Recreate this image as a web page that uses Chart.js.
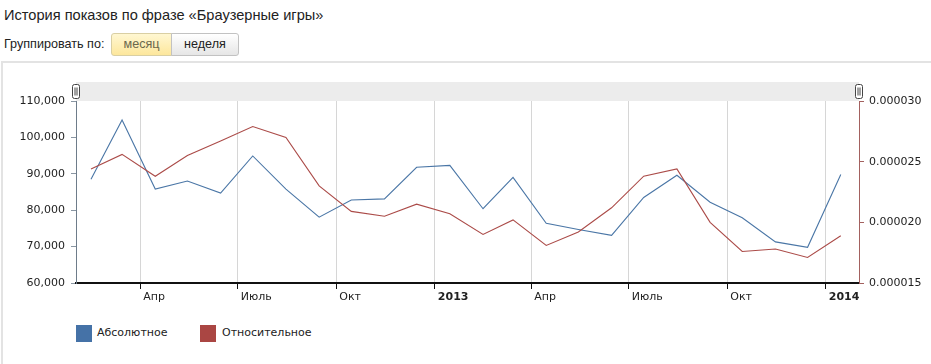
<!DOCTYPE html>
<html><head><meta charset="utf-8">
<script src="https://cdn.jsdelivr.net/npm/chart.js@4.4.1/dist/chart.umd.min.js"></script>
<style>
html,body{margin:0;padding:0}
body{width:931px;height:364px;overflow:hidden;background:#fff;font-family:"Liberation Sans",Arial,sans-serif;position:relative}
#title{position:absolute;left:4px;top:7px;font-size:14.6px;color:#222;white-space:nowrap}
#group{position:absolute;left:4px;top:37px;font-size:12.6px;color:#222;white-space:nowrap}
.btn{position:absolute;top:33px;height:23px;line-height:21px;font-size:12.6px;text-align:center;box-sizing:border-box}
#b1{left:111px;width:61px;background:linear-gradient(#fff7d2,#fde79c);border:1px solid #d9cfa3;border-radius:3px 0 0 3px;color:#6b684c}
#b2{left:171px;width:68px;background:linear-gradient(#ffffff,#e6e6e6);border:1px solid #c2c2c2;border-radius:0 3px 3px 0;color:#222}
#frame{position:absolute;left:1px;top:61px;width:940px;height:320px;border-top:2px solid #e3e3e3;border-left:2px solid #e3e3e3}
#wrap{position:absolute;left:0;top:62px;width:931px;height:240px}
.lg{position:absolute;top:325px;width:16px;height:17px}
.lt{position:absolute;top:326px;font-family:"DejaVu Sans",Verdana,sans-serif;font-size:11px;color:#222;white-space:nowrap}
</style></head>
<body>
<div id="title">История показов по фразе «Браузерные игры»</div>
<div id="group">Группировать по:</div>
<div class="btn" id="b1">месяц</div>
<div class="btn" id="b2">неделя</div>
<div id="frame"></div>
<div id="wrap"><canvas id="c" width="931" height="240"></canvas></div>
<div class="lg" style="left:76px;background:#4572A7"></div>
<div class="lt" style="left:97px">Абсолютное</div>
<div class="lg" style="left:200px;background:#AA4643"></div>
<div class="lt" style="left:222px">Относительное</div>
<script>
const months = ["2012-02","2012-03","2012-04","2012-05","2012-06","2012-07","2012-08","2012-09","2012-10","2012-11","2012-12",
  "2013-01","2013-02","2013-03","2013-04","2013-05","2013-06","2013-07","2013-08","2013-09","2013-10","2013-11","2013-12","2014-01"];
const absoluteViews = [88500,104800,85800,88000,84700,94900,85800,78100,82800,83100,91800,92300,
  80400,89000,76400,74700,73100,83500,89600,82200,77900,71300,69800,89800];
const relativeViews = [0.0000244,0.0000256,0.0000238,0.0000255,0.0000267,0.0000279,0.0000270,0.0000230,0.0000209,0.0000205,0.0000215,0.0000207,
  0.0000190,0.0000202,0.0000181,0.0000192,0.0000212,0.0000238,0.0000244,0.0000200,0.0000176,0.0000178,0.0000171,0.0000189];
const tickDates = ["2012-04-01","2012-07-01","2012-10-01","2013-01-01","2013-04-01","2013-07-01","2013-10-01","2014-01-01"];
const tickLabels = ["Апр","Июль","Окт","2013","Апр","Июль","Окт","2014"];
const yearTicks = ["2013-01-01","2014-01-01"].map(d=>Date.parse(d));
const axisStart = "2012-02-01", axisEnd = "2014-02-01";

const xs = months.map(m=>Date.parse(m+"-15"));
const tickVals = tickDates.map(d=>Date.parse(d));
const font = {family:"DejaVu Sans", size:11};

const bandPlugin = {
  id:'band',
  beforeDraw(chart){
    const {ctx, chartArea:a} = chart;
    ctx.save();
    ctx.fillStyle = '#ececec';
    ctx.fillRect(a.left, a.top-19, a.right-a.left, 19);
    ctx.restore();
  },
  afterDraw(chart){
    const {ctx, chartArea:a} = chart;
    ctx.save();
    [a.left, a.right].forEach(x=>{
      const l = Math.round(x)-3.5, t = a.top-16.5;
      ctx.fillStyle='#fff'; ctx.strokeStyle='#444'; ctx.lineWidth=1;
      ctx.beginPath(); ctx.roundRect(l,t,7,14,2); ctx.fill(); ctx.stroke();
      ctx.beginPath(); ctx.moveTo(l+2.5,t+3); ctx.lineTo(l+2.5,t+11); ctx.moveTo(l+4.5,t+3); ctx.lineTo(l+4.5,t+11); ctx.stroke();
    });
    ctx.restore();
  }
};

new Chart(document.getElementById('c'), {
  type:'line',
  data:{datasets:[
    {label:'Абсолютное', data:xs.map((x,i)=>({x, y:absoluteViews[i]})), yAxisID:'y', borderColor:'#4a76a6', borderWidth:1.1, pointRadius:0, tension:0, order:1},
    {label:'Относительное', data:xs.map((x,i)=>({x, y:relativeViews[i]})), yAxisID:'y1', borderColor:'#ab4b48', borderWidth:1.1, pointRadius:0, tension:0, order:0}
  ]},
  options:{
    responsive:false, animation:false, devicePixelRatio:1,
    layout:{padding:{top:39,left:0,right:0,bottom:0}},
    plugins:{legend:{display:false}, tooltip:{enabled:false}},
    scales:{
      x:{type:'linear', min:Date.parse(axisStart), max:Date.parse(axisEnd),
        afterBuildTicks(s){ s.ticks = tickVals.map(v=>({value:v})); },
        afterFit(s){ s.height = 19; },
        ticks:{autoSkip:false, maxRotation:0, padding:2, color:'#222', align:'start', labelOffset:3,
          callback:(v)=>{ const i = tickVals.indexOf(v); return i>=0 ? tickLabels[i] : ''; },
          font:(c)=>({family:"DejaVu Sans", size:11, weight:(c.tick && yearTicks.includes(c.tick.value)) ? 'bold':'normal'})},
        grid:{color:'#d6d6d6', lineWidth:1, tickColor:'#111', tickLength:6, drawOnChartArea:true},
        border:{color:'#111', width:2}
      },
      y:{position:'left', min:60000, max:110000,
        afterFit(s){ s.width = 76; },
        ticks:{stepSize:10000, color:'#222', font, padding:6, callback:v=>Number(v).toLocaleString('en-US')},
        grid:{drawOnChartArea:false, tickLength:5, tickColor:'#8a96a3'},
        border:{color:'#6e7c8a', width:1}
      },
      y1:{position:'right', min:0.000015, max:0.000030,
        afterFit(s){ s.width = 72; },
        ticks:{stepSize:0.000005, color:'#222', font, padding:5, callback:v=>Number(v).toFixed(6)},
        grid:{drawOnChartArea:false, tickLength:5, tickColor:'#a3615f'},
        border:{color:'#a3615f', width:1}
      }
    }
  },
  plugins:[bandPlugin]
});
</script>
</body></html>
